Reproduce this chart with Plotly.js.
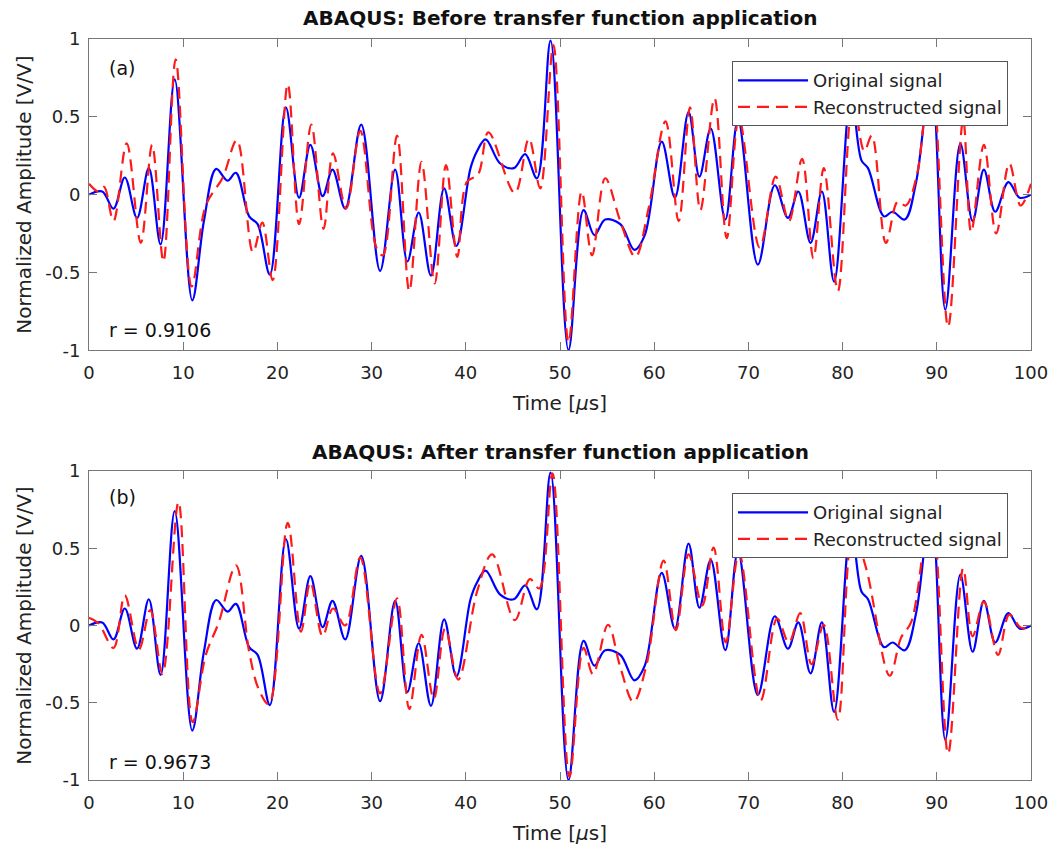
<!DOCTYPE html>
<html>
<head>
<meta charset="utf-8">
<script src="https://cdn.plot.ly/plotly-3.0.1.min.js"></script>
<style>html,body{margin:0;padding:0;background:#fff;}#chart{width:1051px;height:847px;}</style>
</head>
<body>
<div id="chart"></div>
<script>
// Original signal (same in both panels)
const tOrig = [0, 1.4, 2.6, 3.8, 5.1, 6.35, 7.6, 9.1, 10.96, 12.2, 13.5, 14.7, 15.6, 17.0, 17.9, 19.2, 20.9, 22.3, 23.5, 24.8,
  25.85, 27.2, 28.9, 30.9, 32.5, 33.8, 35.0, 36.3, 37.7, 39.0, 40.5, 41.2, 42.1, 43.65, 45.1, 46.3, 47.55, 49.0,
  50.9, 52.5, 53.65, 54.8, 56.4, 57.9, 59.0, 60.8, 62.2, 63.65, 64.8, 66.0, 67.55, 68.9, 71.0, 72.8, 74.2,
  75.3, 76.6, 77.8, 79.1, 80.9, 82.0, 82.7, 84.4, 85.3, 86.6, 87.8, 89.4, 90.9, 92.5, 93.8, 95.0, 96.2, 97.6, 98.8, 100];
const vOrig = [0.0, 0.02, -0.09, 0.11, -0.15, 0.17, -0.32, 0.74, -0.68, -0.17, 0.165, 0.09, 0.14, -0.14, -0.19, -0.515, 0.56, -0.02, 0.32, -0.01,
  0.16, -0.09, 0.45, -0.49, 0.16, -0.43, -0.115, -0.52, 0.04, -0.33, 0.17, 0.28, 0.355, 0.2, 0.17, 0.26, 0.105, 0.99,
  -1.0, -0.1, -0.26, -0.16, -0.19, -0.355, -0.26, 0.34, -0.02, 0.53, 0.115, 0.425, -0.16, 0.48, -0.45, 0.06, -0.15,
  0.02, -0.31, 0.02, -0.56, 0.65, 0.22, 0.17, -0.14, -0.11, -0.16, 0.08, 0.78, -0.74, 0.33, -0.17, 0.16, -0.11, 0.08, -0.02, 0.0];

// Reconstructed signal, before transfer function (a)
const tRecA = [0, 1.0, 1.6, 2.6, 4.0, 5.5, 6.7, 7.9, 9.2, 10.9, 12.4, 14.2, 15.7, 17.4, 18.4, 19.5, 21.1, 22.3, 23.6, 24.9,
  25.9, 27.3, 28.8, 30.5, 31.2, 32.7, 34.0, 35.3, 36.7, 37.9, 39.1, 40.1, 41.3, 42.4, 45.2, 46.7, 47.9, 49.3,
  50.9, 52.3, 53.4, 54.8, 56.4, 58.0, 59.4, 61.2, 62.6, 63.8, 64.9, 66.4, 67.7, 69.0, 71.2, 72.9, 74.3,
  75.7, 76.9, 78.0, 79.5, 81.1, 82.3, 83.1, 84.6, 85.85, 86.7, 87.9, 89.4, 91.2, 92.8, 93.65, 95.0, 96.3, 97.7, 98.9, 100];
const vRecA = [0.07, 0.02, 0.05, -0.17, 0.33, -0.31, 0.32, -0.43, 0.87, -0.59, -0.07, 0.11, 0.35, -0.37, -0.18, -0.55, 0.71, -0.19, 0.45, -0.22,
  0.265, -0.09, 0.41, -0.34, -0.39, 0.38, -0.62, 0.21, -0.57, 0.19, -0.40, 0.08, 0.13, 0.40, 0.01, 0.36, 0.04, 0.96,
  -0.95, 0.02, -0.39, 0.105, -0.17, -0.40, -0.09, 0.47, -0.17, 0.56, -0.1, 0.62, -0.28, 0.49, -0.34, 0.115, -0.17,
  0.23, -0.41, 0.17, -0.62, 0.6, 0.28, 0.38, -0.31, -0.045, -0.07, 0.13, 0.85, -0.85, 0.48, -0.24, 0.32, -0.25, 0.2, -0.07, 0.07];

// Reconstructed signal, after transfer function (b)
const tRecB = [0, 1.0, 2.6, 3.8, 5.3, 6.5, 7.8, 9.5, 11.0, 12.4, 13.8, 15.6, 17.0, 18.0, 19.1, 21.1, 22.5, 23.5, 24.8,
  25.9, 27.2, 28.8, 30.9, 32.7, 34.0, 35.3, 36.6, 37.8, 39.2, 41.2, 42.8, 45.2, 46.8, 47.8, 49.2,
  51.0, 52.5, 53.5, 55.1, 56.4, 57.8, 59.2, 61.0, 62.3, 63.65, 65.1, 66.3, 67.6, 69.0, 71.3, 73.05, 74.3,
  75.5, 76.7, 78.0, 79.5, 81.1, 82.5, 85.0, 86.2, 87.3, 89.4, 91.2, 92.8, 93.8, 95.0, 96.5, 97.7, 98.95, 100];
const vRecB = [0.05, 0.015, -0.145, 0.195, -0.155, 0.1, -0.315, 0.8, -0.625, -0.19, 0.025, 0.39, -0.17, -0.41, -0.51, 0.665, -0.04, 0.28, -0.07,
  0.11, 0.0, 0.44, -0.44, 0.175, -0.54, -0.06, -0.475, -0.02, -0.35, 0.22, 0.46, 0.035, 0.3, 0.24, 0.985,
  -0.98, -0.145, -0.315, 0.005, -0.27, -0.495, -0.25, 0.42, -0.03, 0.46, 0.13, 0.505, -0.11, 0.47, -0.485, 0.045, -0.11,
  0.08, -0.25, 0.005, -0.61, 0.6, 0.37, -0.325, -0.08, 0.025, 0.78, -0.83, 0.37, -0.07, 0.155, -0.19, 0.07, -0.015, -0.005];

const titleA = 'ABAQUS: Before transfer function application';
const titleB = 'ABAQUS: After transfer function application';
const labelA = '(a)', labelB = '(b)';
const corrA = 'r = 0.9106', corrB = 'r = 0.9673';
const nameOrig = 'Original signal', nameRec = 'Reconstructed signal';
const xTicks = [0, 10, 20, 30, 40, 50, 60, 70, 80, 90, 100];
const yTicks = [-1, -0.5, 0, 0.5, 1];
const yTickText = ['-1', '-0.5', '0', '0.5', '1'];

const FONT = 'DejaVu Sans, Liberation Sans, Arial, sans-serif';
const blueLine = {color: '#0000ff', width: 2.2, shape: 'spline', smoothing: 1};
const redLine = {color: '#ff1a1a', width: 2.2, shape: 'spline', smoothing: 1, dash: '12px,7px'};

const traces = [
  {x: tOrig, y: vOrig, name: nameOrig, type: 'scatter', mode: 'lines', line: blueLine, xaxis: 'x', yaxis: 'y', legend: 'legend'},
  {x: tRecA, y: vRecA, name: nameRec, type: 'scatter', mode: 'lines', line: redLine, xaxis: 'x', yaxis: 'y', legend: 'legend'},
  {x: tOrig, y: vOrig, name: nameOrig, type: 'scatter', mode: 'lines', line: blueLine, xaxis: 'x2', yaxis: 'y2', legend: 'legend2'},
  {x: tRecB, y: vRecB, name: nameRec, type: 'scatter', mode: 'lines', line: redLine, xaxis: 'x2', yaxis: 'y2', legend: 'legend2'}
];

function xAx(anchor) {
  return {anchor: anchor, domain: [0, 1], range: [0, 100], tickvals: xTicks, ticks: 'inside', ticklen: 8, tickcolor: '#777',
    showline: true, linecolor: '#777', linewidth: 1, mirror: 'ticks', showgrid: false, zeroline: false,
    ticklabelstandoff: 6,
    tickfont: {size: 18, color: '#222'},
    title: {text: 'Time [<i>μ</i>s]', font: {size: 20, color: '#222'}, standoff: 14}};
}
function yAx(anchor, dom) {
  return {anchor: anchor, domain: dom, range: [-1, 1], tickvals: yTicks, ticktext: yTickText,
    ticks: 'inside', ticklen: 8, tickcolor: '#777',
    showline: true, linecolor: '#777', linewidth: 1, mirror: 'ticks', showgrid: false, zeroline: false,
    ticklabelstandoff: 4,
    tickfont: {size: 18, color: '#222'},
    title: {text: 'Normalized Amplitude [V/V]', font: {size: 20, color: '#222'}, standoff: 8}};
}

const legendBase = {xanchor: 'right', yanchor: 'top', bgcolor: '#fff', bordercolor: '#555', borderwidth: 1,
  font: {size: 18, family: FONT, color: '#222'}, tracegroupgap: 0, itemwidth: 70};

const layout = {
  width: 1051, height: 847,
  margin: {l: 89, r: 20, t: 39, b: 67},
  paper_bgcolor: '#fff', plot_bgcolor: '#fff',
  font: {family: FONT, color: '#222'},
  xaxis: xAx('y'),
  yaxis: yAx('x', [0.58, 1]),
  xaxis2: xAx('y2'),
  yaxis2: yAx('x2', [0, 0.417]),
  legend: Object.assign({x: 0.9756, y: 0.970}, legendBase),
  legend2: Object.assign({x: 0.9756, y: 0.387}, legendBase),
  annotations: [
    {text: '<b>' + titleA + '</b>', xref: 'x domain', yref: 'y domain', x: 0.5, y: 1.0675, xanchor: 'center', yanchor: 'middle', showarrow: false, font: {size: 20, color: '#111'}},
    {text: '<b>' + titleB + '</b>', xref: 'x2 domain', yref: 'y2 domain', x: 0.5, y: 1.0615, xanchor: 'center', yanchor: 'middle', showarrow: false, font: {size: 20, color: '#111'}},
    {text: labelA, xref: 'x domain', yref: 'y domain', x: 0.019, y: 0.907, xanchor: 'left', yanchor: 'middle', showarrow: false, font: {size: 19, color: '#111'}},
    {text: corrA, xref: 'x domain', yref: 'y domain', x: 0.019, y: 0.064, xanchor: 'left', yanchor: 'middle', showarrow: false, font: {size: 19, color: '#111'}},
    {text: labelB, xref: 'x2 domain', yref: 'y2 domain', x: 0.019, y: 0.916, xanchor: 'left', yanchor: 'middle', showarrow: false, font: {size: 19, color: '#111'}},
    {text: corrB, xref: 'x2 domain', yref: 'y2 domain', x: 0.019, y: 0.058, xanchor: 'left', yanchor: 'middle', showarrow: false, font: {size: 19, color: '#111'}}
  ]
};

Plotly.newPlot('chart', traces, layout, {displayModeBar: false, staticPlot: true});
</script>
</body>
</html>
